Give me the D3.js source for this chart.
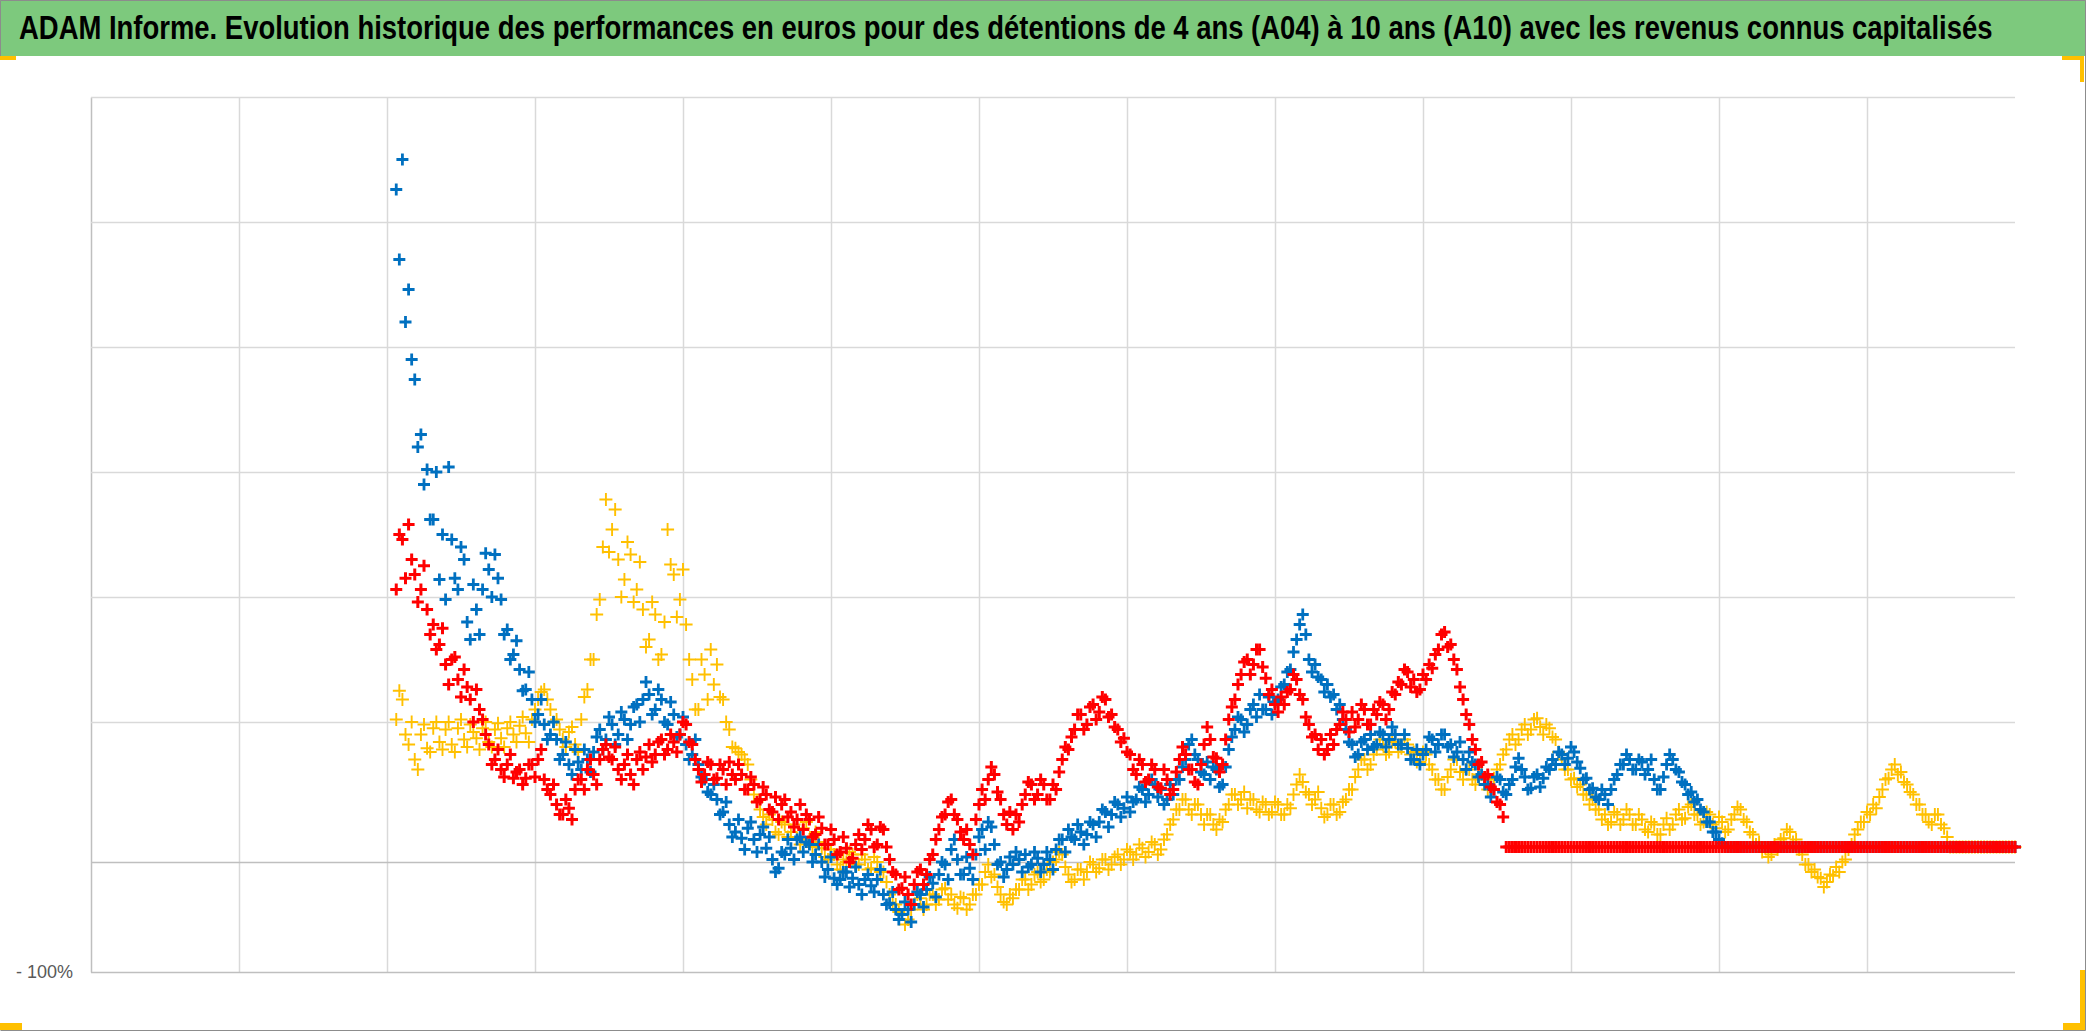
<!DOCTYPE html>
<html>
<head>
<meta charset="utf-8">
<script src="https://cdn.jsdelivr.net/npm/d3@7"></script>
<style>
html,body{margin:0;padding:0;background:#fff;}
svg{display:block;}
</style>
</head>
<body>
<svg id="chart" width="2086" height="1031"></svg>
<script>
// ---------- DATA ----------
const chartTitle = "ADAM Informe. Evolution historique des performances en euros pour des détentions de 4 ans (A04) à 10 ans (A10) avec les revenus connus capitalisés";
const yGridValues = [-100, -12, 100, 200, 300, 400, 500, 600];   // % gridlines
const yTickLabels = {"-100": "- 100%"};                          // only visible label
const xGridYears = [1,2,3,4,5,6,7,8,9,10,11,12];                 // vertical gridlines (years)
const firstPeriod = 2.0625;    // years from axis origin of the first observation
const periodLength = 1/24;     // half-month observations (plus one mid-period reading)

// performance (%) – blue series, start of each half-month
const blueValues = [
526,550,446,374,330,302,262,214,198,246,
206,230,166,190,206,222,234,198,174,154,
142,126,118,106,98,90,86,74,66,78,
62,70,76,94,86,98,90,102,98,114,
118,122,110,118,98,106,90,82,74,66,
54,42,38,28,18,12,7,15,6,10,
-1,-10,-17,-6,-1,6,-4,2,-6,-12,
-18,-25,-26,-20,-25,-30,-26,-31,-26,-38,
-45,-50,-54,-50,-46,-38,-34,-29,-22,-14,
-2,-10,-22,-17,-6,14,20,2,-12,-18,
-14,-10,-6,-14,-9,-14,-10,-2,6,14,
6,12,10,18,20,28,26,34,31,28,
38,46,42,50,46,38,42,54,70,86,
70,58,54,62,50,78,94,102,98,114,
122,110,106,118,130,142,166,186,150,146,
134,130,122,114,94,82,74,86,90,82,
90,86,90,82,79,70,66,78,86,82,
90,82,76,70,76,66,58,50,46,54,
42,54,71,56,47,58,55,62,66,74,
71,76,63,55,47,38,42,46,58,66,
70,62,68,62,54,46,66,70,60,50,
44,38,28,20,12,3,
0,0,0,0,0,0,0,0,0,0,
0,0,0,0,0,0,0,0,0,0,
0,0,0,0,0,0,0,0,0,0,
0,0,0,0,0,0,0,0,0,0,
0,0,0,0,0,0,0
];
// blue series, middle of each half-month
const blueMidValues = [
470,420,390,320,290,262,300,250,304,215,
240,180,210,170,235,200,215,170,150,165,
125,140,100,118,86,100,70,84,58,68,
78,60,88,78,104,82,108,86,112,100,
132,106,126,100,116,88,104,70,86,56,
44,50,26,36,8,22,-2,20,-4,16,
8,-20,-4,6,-10,8,4,-12,2,-24,
-8,-30,-20,-32,-16,-38,-22,-36,-18,-46,
-36,-58,-44,-60,-36,-48,-24,-40,-12,-26,
6,-22,-8,-26,8,-2,16,-14,-24,-8,
-4,-20,-16,-4,-20,-4,-18,6,-4,8,
18,2,20,8,30,16,36,24,40,36,
48,36,54,40,34,50,54,64,82,74,
60,68,64,48,64,88,104,92,110,104,
110,120,116,128,140,156,178,170,140,136,
124,120,110,102,84,72,84,78,80,92,
80,96,82,90,70,78,74,88,76,90,
80,72,84,62,68,56,50,40,56,44,
50,64,62,46,56,48,64,70,76,66,
80,68,54,46,40,46,34,54,66,74,
62,70,58,70,46,56,74,62,52,42,
36,30,20,12,6,0,
0,0,0,0,0,0,0,0,0,0,
0,0,0,0,0,0,0,0,0,0,
0,0,0,0,0,0,0,0,0,0,
0,0,0,0,0,0,0,0,0,0,
0,0,0,0,0,0,0
];

// performance (%) – red series
const redValues = [
206,246,258,218,206,190,178,162,146,150,
134,142,118,126,102,82,70,62,66,55,
62,55,66,70,54,42,34,26,31,46,
54,62,58,70,82,70,62,66,58,70,
62,82,74,86,78,84,90,98,82,62,
58,66,55,62,68,54,58,46,50,38,
42,28,22,38,28,22,14,22,10,15,
2,6,-4,-1,-9,10,6,14,2,14,
-10,-22,-33,-38,-30,-18,-22,-6,14,26,
38,22,6,2,22,46,54,58,38,18,
14,20,42,50,42,50,38,46,70,78,
94,106,98,114,108,118,106,94,87,74,
58,66,54,62,47,54,46,70,74,62,
50,82,86,71,66,102,118,138,150,146,
158,135,126,108,114,126,134,118,98,90,
86,78,82,98,102,108,102,110,98,106,
114,110,122,130,140,134,126,134,143,158,
172,162,142,118,98,78,68,58,46,34,
0,0,0,0,0,0,0,0,0,0,
0,0,0,0,0,0,0,0,0,0,
0,0,0,0,0,0,0,0,0,0,
0,0,0,0,0,0,0,0,0,0,
0,0,0,0,0,0,0,0,0,0,
0,0,0,0,0,0,0,0,0,0,
0,0,0,0,0,0,0,0,0,0,
0,0,0,0,0,0,0,0,0,0,
0,0,0
];
const redMidValues = [
250,215,230,196,225,170,158,175,130,152,
120,128,100,110,90,66,78,56,74,60,
50,66,56,78,46,50,26,38,22,54,
46,70,50,78,72,80,54,74,50,76,
72,68,84,74,90,76,100,84,70,52,
68,54,66,50,58,66,46,56,36,48,
30,40,34,24,16,34,26,8,24,2,
14,-6,8,-12,2,-2,18,0,16,0,
-20,-34,-24,-46,-20,-30,-10,6,24,36,
26,12,14,-6,34,38,64,44,26,28,
26,34,52,38,54,38,50,60,80,88,
106,94,112,102,120,104,96,84,76,62,
70,52,66,48,62,42,60,80,62,52,
66,96,72,60,86,112,130,148,138,158,
144,122,114,120,124,138,122,104,88,78,
74,90,94,108,92,96,114,98,110,116,
102,124,132,142,128,124,138,146,154,170,
160,150,128,106,86,66,56,48,36,24,
0,0,0,0,0,0,0,0,0,0,
0,0,0,0,0,0,0,0,0,0,
0,0,0,0,0,0,0,0,0,0,
0,0,0,0,0,0,0,0,0,0,
0,0,0,0,0,0,0,0,0,0,
0,0,0,0,0,0,0,0,0,0,
0,0,0,0,0,0,0,0,0,0,
0,0,0,0,0,0,0,0,0,0,
0,0,0
];

// performance (%) – yellow series
const yellowValues = [
102,118,82,70,90,79,95,84,94,82,
95,86,98,87,95,84,94,87,95,90,
97,91,102,118,126,110,102,86,92,82,
102,126,150,198,278,254,230,214,234,206,
190,166,186,154,254,218,198,178,134,110,
138,158,146,118,94,79,74,66,42,30,
18,22,10,18,12,7,15,6,12,-1,
-10,-6,-18,-12,-6,-14,-10,-17,-12,-20,
-38,-46,-54,-58,-46,-41,-46,-38,-42,-33,
-38,-49,-41,-46,-38,-30,-14,-22,-38,-46,
-41,-34,-26,-30,-20,-26,-20,-10,-6,-22,
-26,-18,-20,-14,-17,-10,-14,-6,-10,-4,
-6,-1,-4,2,-2,10,22,30,38,26,
34,18,26,14,20,34,42,38,31,38,
28,34,28,34,26,31,50,52,42,38,
31,26,34,28,38,46,62,70,66,78,
82,76,84,79,82,76,68,74,62,54,
46,62,70,54,62,50,58,46,55,66,
78,90,86,98,94,103,90,95,86,70,
62,55,50,42,38,30,26,20,26,22,
26,18,22,12,18,10,23,18,30,23,
34,26,20,26,15,20,14,26,30,20,
10,4,-1,-6,-2,7,12,6,-6,-14,
-18,-25,-28,-23,-20,-10,2,14,20,26,
31,46,55,66,60,50,42,34,26,18,
26,15,
0,0,0,0,0,0,0,0,0,0,0
];
const yellowMidValues = [
125,90,100,62,98,76,100,78,100,76,
102,80,92,78,100,80,99,80,100,84,
104,84,110,124,118,100,94,80,96,76,
120,150,186,240,236,270,200,244,196,228,
160,196,150,180,226,184,222,150,110,150,
118,130,120,100,80,76,70,54,36,24,
26,12,20,8,18,2,20,0,4,-8,
-2,-14,-10,-4,-14,-6,-18,-8,-20,-28,
-46,-52,-62,-50,-38,-50,-38,-46,-34,-42,
-46,-40,-50,-38,-30,-20,-24,-32,-44,-38,
-34,-26,-34,-22,-28,-18,-12,-4,-16,-28,
-18,-26,-12,-20,-10,-18,-8,-14,-2,-10,
2,-8,4,-6,6,18,30,38,30,34,
26,26,18,22,30,42,34,44,38,30,
36,26,36,26,34,42,58,44,34,44,
24,34,26,36,46,56,70,62,74,86,
74,84,76,86,74,68,76,66,54,46,
56,70,60,62,54,58,50,54,62,74,
86,82,94,90,102,96,98,88,76,62,
54,48,42,34,30,22,18,28,18,30,
18,26,14,20,10,18,14,26,22,32,
26,18,28,18,24,12,22,32,22,12,
2,-4,-8,2,6,14,4,-2,-14,-20,
-24,-32,-22,-16,-12,-2,10,20,28,34,
40,54,62,58,52,44,34,26,20,26,
18,8,
0,0,0,0,0,0,0,0,0,0,0
];

const seriesColors = {yellow: "#FFC000", blue: "#0070C0", red: "#FF0000"};

// ---------- LAYOUT ----------
const W = 2086, H = 1031;
const plot = {left: 91, right: 2015, top: 97, bottom: 972};
const titleBarH = 56;

const svg = d3.select("#chart");
svg.append("rect").attr("x",0).attr("y",0).attr("width",W).attr("height",H).attr("fill","#fff");

// title bar
svg.append("rect").attr("x",0).attr("y",0).attr("width",W).attr("height",titleBarH).attr("fill","#7DC97D");
const titleText = svg.append("text")
  .attr("x", 0).attr("y", 0)
  .attr("font-family", "'Liberation Sans','Arial',sans-serif")
  .attr("font-weight", "bold")
  .attr("font-size", 33)
  .attr("fill", "#000")
  .text(chartTitle);
const naturalW = titleText.node().getComputedTextLength();
const targetW = 1974;
titleText.attr("transform", `translate(19,39) scale(${targetW / naturalW},1)`);

// scales
const x = d3.scaleLinear().domain([0, 13]).range([plot.left, plot.right]);
const y = d3.scaleLinear().domain([-100, 600]).range([plot.bottom, plot.top]);

// vertical gridlines
const gx = svg.append("g")
  .attr("transform", `translate(0,${plot.bottom})`)
  .call(d3.axisBottom(x).tickValues(xGridYears).tickSize(-(plot.bottom - plot.top)).tickSizeOuter(0).tickFormat(""));
gx.select(".domain").remove();
gx.selectAll(".tick line").attr("stroke", "#d9d9d9").attr("stroke-width", 1.5);

// horizontal gridlines + label
const gy = svg.append("g")
  .attr("transform", `translate(${plot.left},0)`)
  .call(d3.axisLeft(y).tickValues(yGridValues).tickSize(-(plot.right - plot.left)).tickSizeOuter(0).tickPadding(18)
        .tickFormat(d => yTickLabels[String(d)] || ""));
gy.select(".domain").attr("stroke", "#bfbfbf").attr("stroke-width", 1.5);
gy.selectAll(".tick line")
  .attr("stroke", d => (d === -100 || d === -12) ? "#bfbfbf" : "#d9d9d9")
  .attr("stroke-width", 1.5);
gy.selectAll(".tick text")
  .attr("font-family", "'Liberation Sans','Arial',sans-serif")
  .attr("font-size", 18)
  .attr("fill", "#595959");

// series
function drawSeries(values, midValues, color, size, sw) {
  const pts = [];
  values.forEach((v, i) => {
    pts.push({t: firstPeriod + i * periodLength, v});
    pts.push({t: firstPeriod + (i + 0.5) * periodLength, v: midValues[i]});
  });
  const h = size / 2;
  svg.append("g")
    .selectAll("path")
    .data(pts)
    .join("path")
    .attr("transform", d => `translate(${x(d.t)},${y(d.v)})`)
    .attr("d", `M${-h},0H${h}M0,${-h}V${h}`)
    .attr("stroke", color)
    .attr("stroke-width", sw)
    .attr("fill", "none");
}
drawSeries(yellowValues, yellowMidValues, seriesColors.yellow, 13, 1.9);
drawSeries(blueValues, blueMidValues, seriesColors.blue, 12, 2.8);
drawSeries(redValues, redMidValues, seriesColors.red, 12, 3);

// frame + corner marks
svg.append("path").attr("d", `M0.5,${titleBarH}V0.5H${W-0.5}V${H-0.5}H0.5`).attr("fill","none").attr("stroke","#8c8c8c").attr("stroke-width",1);
const gold = "#FFC000";
svg.append("rect").attr("x",0).attr("y",titleBarH).attr("width",16).attr("height",4).attr("fill",gold);
svg.append("rect").attr("x",2062).attr("y",titleBarH).attr("width",22).attr("height",4).attr("fill",gold);
svg.append("rect").attr("x",2080).attr("y",titleBarH).attr("width",4).attr("height",26).attr("fill",gold);
svg.append("rect").attr("x",0).attr("y",1023).attr("width",22).attr("height",7).attr("fill",gold);
svg.append("rect").attr("x",2063).attr("y",1023).attr("width",22).attr("height",7).attr("fill",gold);
svg.append("rect").attr("x",2080).attr("y",970).attr("width",5).attr("height",60).attr("fill",gold);
</script>
</body>
</html>
